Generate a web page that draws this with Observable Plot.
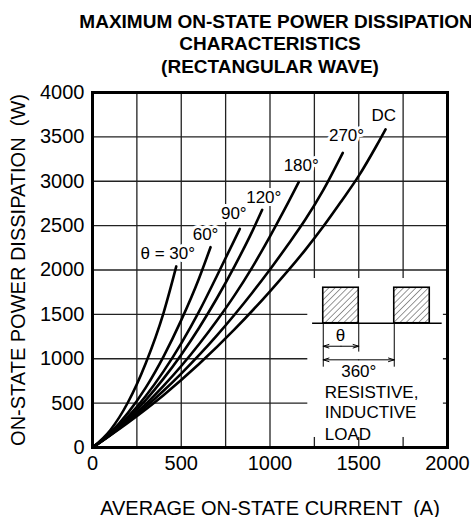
<!DOCTYPE html>
<html><head><meta charset="utf-8">
<script src="https://cdn.jsdelivr.net/npm/d3@7"></script>
<script src="https://cdn.jsdelivr.net/npm/@observablehq/plot@0.6"></script>
<style>body{margin:0;background:#fff} svg{display:block}</style>
</head><body><div id="chart"></div>
<script>
// Tick labels / grid
const xTicks = [0, 500, 1000, 1500, 2000];
const yTicks = [0, 500, 1000, 1500, 2000, 2500, 3000, 3500, 4000];
const xGrid = [250, 500, 750, 1000, 1250, 1500, 1750];
const yGrid = [500, 1000, 1500, 2000, 2500, 3000, 3500];

// Curves: [current A, power W]
const c30  = [[0,0],[100,195],[200,510],[300,950],[400,1515],[472,2040]];
const c60  = [[0,0],[100,165],[200,390],[300,675],[400,1025],[500,1435],[600,1905],[665,2257]];
const c90  = [[0,0],[100,152],[200,347],[300,581],[400,858],[500,1174],[600,1531],[700,1930],[800,2340],[830,2464]];
const c120 = [[0,0],[100,147],[200,326],[300,535],[400,776],[500,1046],[600,1347],[700,1679],[800,2041],[900,2435],[956,2678]];
const c180 = [[0,0],[100,142],[200,306],[300,489],[400,694],[500,918],[600,1163],[700,1428],[800,1714],[900,2030],[1000,2380],[1100,2750],[1162,2990]];
const c270 = [[0,0],[100,139],[200,292],[300,459],[400,639],[500,833],[600,1040],[700,1261],[800,1496],[900,1744],[1000,2006],[1100,2282],[1200,2571],[1300,2900],[1410,3320]];
const cDC  = [[0,0],[200,280],[400,590],[600,940],[800,1330],[1000,1760],[1200,2230],[1300,2490],[1400,2770],[1500,3060],[1600,3400],[1651,3585]];

const seriesNames = ["30","60","90","120","180","270","DC"];
const seriesPts = [c30, c60, c90, c120, c180, c270, cDC];

// Curve labels
const labelText = ["θ = 30°", "60°", "90°", "120°", "180°", "270°", "DC"];
const labelX = [424, 637, 796, 965, 1176, 1431, 1641];
const labelY = [2183, 2397, 2633, 2820, 3178, 3516, 3741];

// Titles
const titleLines = ["MAXIMUM ON-STATE POWER DISSIPATION", "CHARACTERISTICS", "(RECTANGULAR WAVE)"];
const xLabel = "AVERAGE ON-STATE CURRENT  (A)";
const yLabel = "ON-STATE POWER DISSIPATION  (W)";
const insetText = ["RESISTIVE,", "INDUCTIVE", "LOAD"];

const table = seriesNames.flatMap((k, i) => seriesPts[i].map(([x, y]) => ({k, x, y})));
const labels = labelText.map((t, i) => ({t, x: labelX[i], y: labelY[i]}));

const font = "'Liberation Sans', Arial, Helvetica, sans-serif";
const fmt = d => String(d);

const svg = Plot.plot({
  width: 471,
  height: 517,
  marginTop: 92,
  marginLeft: 92,
  marginRight: 24,
  marginBottom: 70,
  style: {fontFamily: font, fontSize: "20px", background: "white", color: "black"},
  x: {domain: [0, 2000]},
  y: {domain: [0, 4000]},
  marks: [
    Plot.gridX(xGrid, {stroke: "#222", strokeOpacity: 1, strokeWidth: 1.3}),
    Plot.gridY(yGrid, {stroke: "#222", strokeOpacity: 1, strokeWidth: 1.3}),
    // inset white box
    Plot.rect([{}], {x1: 1213, x2: 1977, y1: 113, y2: 1904, fill: "white"}),
    Plot.line(table, {x: "x", y: "y", z: "k", stroke: "black", strokeWidth: 2.6, curve: "monotone-x"}),
    Plot.text(labels, {x: "x", y: "y", text: "t", fontSize: 17, fill: "black", stroke: "white", strokeWidth: 6, paintOrder: "stroke", strokeLinejoin: "round"}),
    // inset diagram
    Plot.rect([{a: 1300, b: 1500}, {a: 1700, b: 1900}], {x1: "a", x2: "b", y1: 1400, y2: 1800, fill: "url(#hatch)", stroke: "black", strokeWidth: 1.6}),
    Plot.ruleY([1400], {x1: 1240, x2: 1970, stroke: "black", strokeWidth: 1.5}),
    Plot.ruleX([{x: 1300, y: 905}, {x: 1500, y: 1075}, {x: 1700, y: 905}], {x: "x", y1: 1400, y2: "y", stroke: "black", strokeWidth: 1}),
    Plot.arrow([{a: 1400, b: 1300}, {a: 1400, b: 1500}], {x1: "a", x2: "b", y1: 1141, y2: 1141, stroke: "black", strokeWidth: 1, headLength: 9, headAngle: 35}),
    Plot.arrow([{a: 1500, b: 1300}, {a: 1500, b: 1700}], {x1: "a", x2: "b", y1: 988, y2: 988, stroke: "black", strokeWidth: 1, headLength: 9, headAngle: 35}),
    Plot.text(["θ"], {x: 1397, y: 1262, text: d => d, fontSize: 17, fill: "black"}),
    Plot.text(["360°"], {x: 1500, y: 858, text: d => d, fontSize: 17, fill: "black"}),
    Plot.text(insetText.map((t, i) => ({t, i})), {x: 1309, y: d => [614, 389, 146][d.i], text: "t", textAnchor: "start", fontSize: 17, fill: "black"}),
    // axes
    Plot.axisX(xTicks, {tickSize: 0, tickPadding: 8, fontSize: 20, label: null, tickFormat: fmt}),
    Plot.axisY(yTicks, {tickSize: 0, tickPadding: 8, fontSize: 20, label: null, tickFormat: fmt}),
    Plot.frame({stroke: "black", strokeWidth: 3}),
    // axis titles
    Plot.text([xLabel], {frameAnchor: "bottom", dy: 67, lineAnchor: "bottom", textAnchor: "middle", text: d => d, fontSize: 20}),
    Plot.text([yLabel], {frameAnchor: "left", dx: -74, rotate: -90, textAnchor: "middle", lineAnchor: "middle", text: d => d, fontSize: 20}),
    // title
    Plot.text([titleLines[0]], {frameAnchor: "top", dx: 6, dy: -65, lineAnchor: "bottom", text: d => d, fontSize: 19, fontWeight: "bold"}),
    Plot.text([titleLines[1]], {frameAnchor: "top", dy: -43, lineAnchor: "bottom", text: d => d, fontSize: 19, fontWeight: "bold"}),
    Plot.text([titleLines[2]], {frameAnchor: "top", dy: -20, lineAnchor: "bottom", text: d => d, fontSize: 19, fontWeight: "bold"})
  ]
});

d3.select(svg).insert("defs", ":first-child").html(
  '<pattern id="hatch" patternUnits="userSpaceOnUse" width="4.4" height="4.4" patternTransform="rotate(45)">' +
  '<line x1="0" y1="0" x2="0" y2="4.4" stroke="black" stroke-width="0.8"/></pattern>'
);

document.getElementById("chart").appendChild(svg);
</script></body></html>
